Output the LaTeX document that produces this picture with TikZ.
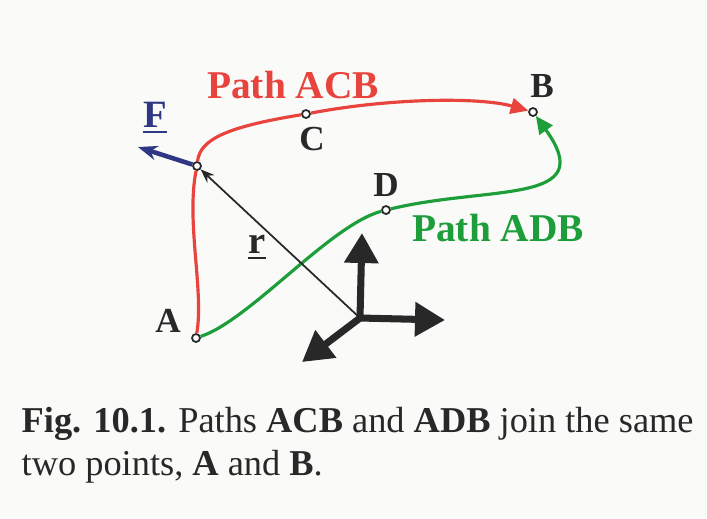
\documentclass[tikz,border=0pt]{standalone}
\usepackage{fontspec}
\setmainfont{Liberation Serif}
\usetikzlibrary{arrows.meta, positioning}
\definecolor{acbred}{HTML}{E8433D}
\definecolor{adbgreen}{HTML}{1E9E3A}
\definecolor{forceblue}{HTML}{2F3683}
\definecolor{ink}{HTML}{282828}
\definecolor{paper}{HTML}{FAFAF8}

\begin{document}
\begin{tikzpicture}[
  x=0.1mm, y=-0.1mm,
  dot/.style={circle, draw=ink, fill=white, line width=0.5pt,
              inner sep=0pt, minimum size=0.8mm},
  lbl/.style={font=\fontsize{10}{12}\selectfont\bfseries, text=ink, inner sep=0pt},
  pathlbl/.style={font=\fontsize{11.2}{13}\selectfont\bfseries, inner sep=0pt},
  acb/.style={draw=acbred, line width=0.9pt},
  adb/.style={draw=adbgreen, line width=0.9pt},
  tip/.style={-{Triangle[length=5pt, width=4.5pt]}},
  axis/.style={draw=ink, line width=2pt, line cap=round,
               -{Triangle[length=3mm, width=3.3mm]}}
]
  \fill[paper] (0,0) rectangle (707,518);
  \useasboundingbox (0,0) rectangle (707,518);

  % Points
  \node[dot] (ptA) at (196,338) {};
  \node[dot] (ptB) at (533,112) {};
  \node[dot] (ptC) at (306,114) {};
  \node[dot] (ptD) at (386,210) {};
  \node[dot] (ptP) at (197,166) {};
  \coordinate (O) at (360,318);
  \coordinate (Ftip) at (138,147);

  % Path ACB
  \draw[acb] (ptA) .. controls (204,290) and (186,222) .. (ptP);
  \draw[acb] (ptP) .. controls (200,140) and (225,127) .. (ptC);
  \draw[acb, tip] (ptC) .. controls (390,98) and (480,97) .. (ptB);

  % Path ADB
  \draw[adb] (ptA) .. controls (250,320) and (330,225) .. (ptD);
  \draw[adb, tip] (ptD) .. controls (490,185) and (600,205) .. (ptB);

  % Position vector and force
  \draw[ink, line width=0.5pt, -{Stealth[length=4pt]}] (O) -- (ptP);
  \draw[forceblue, line width=1.3pt, -{Stealth[length=5.5pt]}] (ptP) -- (Ftip);

  % Axes
  \draw[axis] (O) -- ++(2,-85) coordinate (Ytip);
  \draw[axis] (O) -- ++(85,2) coordinate (Xtip);
  \draw[axis] (O) -- ++(-58,44) coordinate (Ztip);

  % Labels
  \node[lbl, above left=0.1mm and 1.1mm of ptA] (labA) {A};
  \node[lbl, above=0.9mm of ptB, xshift=0.9mm] (labB) {B};
  \node[lbl, below=0.8mm of ptC, xshift=0.6mm] (labC) {C};
  \node[lbl, above=0.8mm of ptD] (labD) {D};
  \node[lbl, font=\fontsize{11}{13}\selectfont\bfseries, text=forceblue,
        anchor=base] (labF) at (155,127) {\underline{F}};
  \node[lbl, font=\fontsize{11}{13}\selectfont\bfseries,
        anchor=base] (labr) at (257,253) {\underline{r}};
  \node[pathlbl, text=acbred, anchor=base] (lblACB) at (293,98) {Path ACB};
  \node[pathlbl, text=adbgreen, anchor=base] (lblADB) at (498,241) {Path ADB};

  % Caption
  \node[anchor=base west, align=left, text=ink, inner sep=0pt,
        font=\fontsize{10.35}{12.2}\selectfont] (caption) at (21,475)
    {\textbf{Fig. 10.1.} Paths \textbf{ACB} and \textbf{ADB} join the same\\
     two points, \textbf{A} and \textbf{B}.};
\end{tikzpicture}
\end{document}
